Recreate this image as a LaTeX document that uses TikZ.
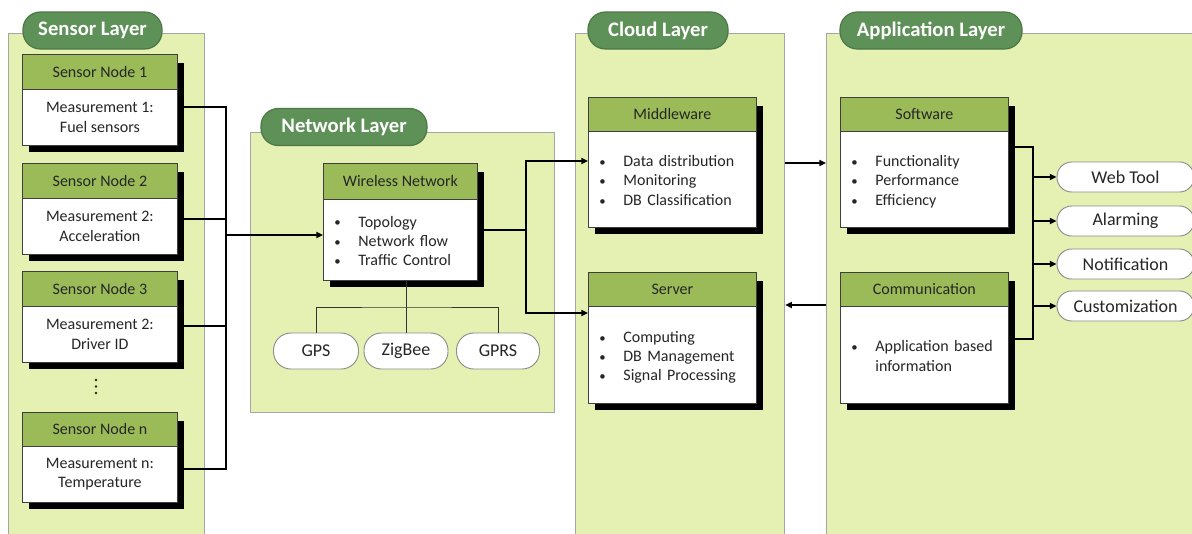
\documentclass[tikz,border=0pt]{standalone}
\usepackage{fontspec}
\setmainfont{Carlito}
\usetikzlibrary{arrows.meta,calc}

\definecolor{panelfill}{HTML}{E5F0B3}
\definecolor{panelline}{HTML}{A5A5A5}
\definecolor{titlefill}{HTML}{5E9157}
\definecolor{titleline}{HTML}{4B7845}
\definecolor{headfill}{HTML}{9BBB59}
\definecolor{cardline}{HTML}{3F3F3F}
\definecolor{pillline}{HTML}{8C8C8C}

\tikzset{
  panel/.style={draw=panelline, fill=panelfill, line width=0.9pt, inner sep=0pt, anchor=north west},
  layertitle/.style={draw=titleline, fill=titlefill, line width=0.9pt, rounded corners=13pt,
    text=white, font=\fontsize{15.5}{18}\selectfont\bfseries, minimum height=27.75pt, inner sep=0pt},
  cardhead/.style={draw=cardline, fill=headfill, line width=0.6pt,
    font=\fontsize{12}{14.6}\selectfont, text=black!85, inner sep=0pt, anchor=north west},
  cardbody/.style={draw=cardline, fill=white, line width=0.6pt,
    font=\fontsize{12}{14.6}\selectfont, text=black!85, inner sep=0pt, anchor=north west},
  centertext/.style={align=center},
  listtext/.style={align=left, text width=#1*0.75pt-16.5pt},
  cardshadow/.style={fill=black},
  pill/.style={draw=pillline, fill=white, line width=0.7pt,
    font=\fontsize{13.5}{16}\selectfont, text=black!85, inner sep=0pt},
  conn/.style={draw=black, line width=1.6pt},
  arr/.style={conn, -{Triangle[length=5pt,width=4.5pt]}},
  thinline/.style={draw=black!80, line width=0.7pt},
  dotmark/.style={fill=black!85},
}

% card: name, left, top, width, header height, body height, body style, header, body
\newcommand\mkcard[9]{%
  \fill[cardshadow] (#2+7,#3+9) rectangle (#2+#4+6.5,#3+#5+#6+7);
  \node[cardbody, #7, minimum width=#4*0.75pt, minimum height=#6*0.75pt] (#1) at (#2,#3+#5) {#9};
  \node[cardhead, minimum width=#4*0.75pt, minimum height=#5*0.75pt] (#1h) at (#2,#3) {#8};
}
\newcommand\bul{\scalebox{0.8}{\textbullet}}
\newcommand\blist[1]{\raisebox{-2pt}[\height][\depth]{\begin{tabular}{@{}p{18pt}@{}l@{}}#1\end{tabular}}}

\begin{document}
\begin{tikzpicture}[x=0.75pt,y=-0.75pt]
\clip (0,0) rectangle (1192,533);

% layer panels
\node[panel, minimum width=196*0.75pt, minimum height=520*0.75pt] (sensorpanel) at (8,33) {};
\node[panel, minimum width=304*0.75pt, minimum height=280*0.75pt] (netpanel) at (250,132) {};
\node[panel, minimum width=209*0.75pt, minimum height=520*0.75pt] (cloudpanel) at (575,33) {};
\node[panel, minimum width=380*0.75pt, minimum height=520*0.75pt] (apppanel) at (826,33) {};

% layer titles
\node[layertitle, minimum width=139*0.75pt] (sensortitle) at (92.5,30.5) {Sensor Layer};
\node[layertitle, minimum width=166*0.75pt] (nettitle) at (344,127) {Network Layer};
\node[layertitle, minimum width=140*0.75pt] (cloudtitle) at (658,30.5) {Cloud Layer};
\node[layertitle, minimum width=182*0.75pt] (apptitle) at (931,30.5) {Application Layer};

% sensor nodes
\mkcard{s1}{22}{54}{155}{35}{56}{centertext}{Sensor Node 1}{Measurement 1:\\Fuel sensors}
\mkcard{s2}{22}{163}{155}{35}{56}{centertext}{Sensor Node 2}{Measurement 2:\\Acceleration}
\mkcard{s3}{22}{271}{155}{35}{56}{centertext}{Sensor Node 3}{Measurement 2:\\Driver ID}
\mkcard{sn}{22}{412}{155}{34}{56}{centertext}{Sensor Node n}{Measurement n:\\Temperature}

% vertical ellipsis between node 3 and node n
\coordinate (dots) at (96,386.5);
\foreach \dy in {-6.5,0,6.5}
  \fill[dotmark] ($(dots)+(0,\dy)$) circle[radius=1.4];

% network
\mkcard{wn}{323}{163}{154}{36}{81}{listtext=154}{Wireless Network}
  {\blist{\bul & Topology\\ \bul & Network flow\\ \bul & Traffic Control}}
\node[pill, minimum width=85*0.75pt, minimum height=36*0.75pt, rounded corners=13pt] (gps) at (316,351) {GPS};
\node[pill, minimum width=84*0.75pt, minimum height=36*0.75pt, rounded corners=13pt] (zigbee) at (406,351) {ZigBee};
\node[pill, minimum width=83*0.75pt, minimum height=36*0.75pt, rounded corners=13pt] (gprs) at (498,351) {GPRS};

% cloud
\mkcard{mw}{588}{97}{168}{34}{96}{listtext=168}{Middleware}
  {\blist{\bul & Data distribution\\ \bul & Monitoring\\ \bul & DB Classification}}
\mkcard{sv}{588}{272}{168}{34}{97}{listtext=168}{Server}
  {\blist{\bul & Computing\\ \bul & DB Management\\ \bul & Signal Processing}}

% application
\mkcard{sw}{840}{97}{168}{34}{96}{listtext=168}{Software}
  {\blist{\bul & Functionality\\ \bul & Performance\\ \bul & Efficiency}}
\mkcard{cm}{840}{272}{168}{34}{97}{listtext=168}{Communication}
  {\blist{\bul & Application based\\ & information}}

\foreach \nm/\txt/\yy in {webtool/Web Tool/177, alarming/Alarming/221,
    notification/Notification/264, customization/Customization/306}
  \node[pill, minimum width=137*0.75pt, minimum height=30*0.75pt, rounded corners=11pt] (\nm) at (1125.5,\yy) {\txt};

% sensor bus
\coordinate (bus1) at (226,107);
\coordinate (bus2) at (226,219);
\coordinate (bus3) at (226,326);
\coordinate (busn) at (226,469);
\coordinate (netin) at (226,235);
\draw[conn] (s1.east |- bus1) -- (bus1) -- (busn) -- (sn.east |- busn);
\draw[conn] (s2.east |- bus2) -- (bus2);
\draw[conn] (s3.east |- bus3) -- (bus3);
\draw[arr] (netin) -- (wn.west |- netin);

% network to cloud
\coordinate (nj) at (526,230);
\coordinate (ntop) at (526,161);
\coordinate (nbot) at (526,313);
\draw[arr] (wn.east |- nj) -- (nj) |- (mw.west |- ntop);
\draw[arr] (nj) |- (sv.west |- nbot);

% radio technologies
\coordinate (radio) at (406,307);
\draw[thinline] (wn.south -| radio) -- (zigbee.north);
\draw[thinline] (gps.north) |- (radio) -| (gprs.north);

% cloud <-> application
\coordinate (ca) at (0,163);
\coordinate (ac) at (0,305);
\draw[arr] (cloudpanel.east |- ca) -- (apppanel.west |- ca);
\draw[arr] (apppanel.west |- ac) -- (cloudpanel.east |- ac);

% application outputs
\coordinate (aj) at (1033,147);
\coordinate (ajb) at (1033,339);
\draw[conn] (sw.east |- aj) -- (aj) -- (ajb) -- (cm.east |- ajb);
\foreach \nm in {webtool, alarming, notification, customization}
  \draw[arr] (aj |- \nm.west) -- (\nm.west);
\end{tikzpicture}
\end{document}
